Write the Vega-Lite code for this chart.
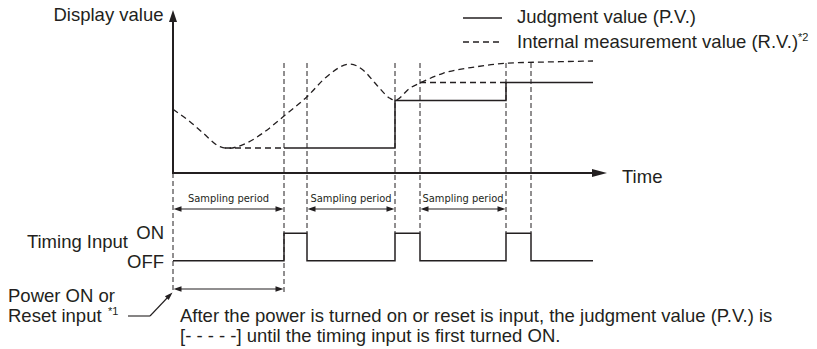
{
  "$schema": "https://vega.github.io/schema/vega-lite/v6.json",
  "width": 817,
  "height": 349,
  "autosize": {"type": "fit", "contains": "padding"},
  "padding": 0,
  "background": "white",
  "view": {"stroke": null},
  "config": {"text": {"font": "Liberation Sans", "color": "#231f20"}},
  "datasets": {
    "guides": [
      {"x": 173, "y": 173, "x2": 173, "y2": 292},
      {"x": 284, "y": 63, "x2": 284, "y2": 293},
      {"x": 307, "y": 63, "x2": 307, "y2": 233},
      {"x": 395, "y": 63, "x2": 395, "y2": 233},
      {"x": 420, "y": 63, "x2": 420, "y2": 233},
      {"x": 506, "y": 63, "x2": 506, "y2": 233},
      {"x": 531, "y": 63, "x2": 531, "y2": 233}
    ],
    "dashh": [
      {"x": 225, "y": 148, "x2": 284, "y2": 148},
      {"x": 420, "y": 82.5, "x2": 506, "y2": 82.5},
      {"x": 463, "y": 42, "x2": 502, "y2": 42}
    ],
    "curve": [
      {"x": 173, "y": 109.3}, {"x": 190, "y": 121.7}, {"x": 203, "y": 133}, {"x": 220, "y": 146.7},
      {"x": 228, "y": 148.3}, {"x": 246.7, "y": 143}, {"x": 263, "y": 133}, {"x": 284, "y": 116},
      {"x": 307, "y": 96.7}, {"x": 326.7, "y": 76.7}, {"x": 350, "y": 64}, {"x": 363, "y": 70},
      {"x": 376.7, "y": 85}, {"x": 390, "y": 98.3}, {"x": 395, "y": 100.3}, {"x": 410, "y": 88},
      {"x": 420, "y": 83}, {"x": 443, "y": 73.3}, {"x": 476.7, "y": 66.7}, {"x": 506, "y": 63.3},
      {"x": 560, "y": 61.7}, {"x": 593, "y": 61}
    ],
    "axes": [
      {"x": 173, "y": 20, "x2": 173, "y2": 173},
      {"x": 172, "y": 173, "x2": 595, "y2": 173}
    ],
    "steps": [
      {"seg": "pv", "o": 1, "x": 284, "y": 148}, {"seg": "pv", "o": 2, "x": 395, "y": 148},
      {"seg": "pv", "o": 3, "x": 395, "y": 100.5}, {"seg": "pv", "o": 4, "x": 506, "y": 100.5},
      {"seg": "pv", "o": 5, "x": 506, "y": 82.5}, {"seg": "pv", "o": 6, "x": 593, "y": 82.5},
      {"seg": "ti", "o": 1, "x": 173, "y": 260.7}, {"seg": "ti", "o": 2, "x": 284, "y": 260.7},
      {"seg": "ti", "o": 3, "x": 284, "y": 233.3}, {"seg": "ti", "o": 4, "x": 307, "y": 233.3},
      {"seg": "ti", "o": 5, "x": 307, "y": 260.7}, {"seg": "ti", "o": 6, "x": 395, "y": 260.7},
      {"seg": "ti", "o": 7, "x": 395, "y": 233.3}, {"seg": "ti", "o": 8, "x": 420, "y": 233.3},
      {"seg": "ti", "o": 9, "x": 420, "y": 260.7}, {"seg": "ti", "o": 10, "x": 506, "y": 260.7},
      {"seg": "ti", "o": 11, "x": 506, "y": 233.3}, {"seg": "ti", "o": 12, "x": 531, "y": 233.3},
      {"seg": "ti", "o": 13, "x": 531, "y": 260.7}, {"seg": "ti", "o": 14, "x": 593, "y": 260.7},
      {"seg": "lg", "o": 1, "x": 463, "y": 18}, {"seg": "lg", "o": 2, "x": 502, "y": 18}
    ],
    "thin": [
      {"x": 176, "y": 209, "x2": 281, "y2": 209},
      {"x": 310, "y": 209, "x2": 392, "y2": 209},
      {"x": 423, "y": 209, "x2": 503, "y2": 209},
      {"x": 176, "y": 289, "x2": 281, "y2": 289},
      {"x": 128, "y": 316, "x2": 150, "y2": 316},
      {"x": 150, "y": 316, "x2": 169, "y2": 296}
    ],
    "heads": [
      {"x": 173, "y": 10, "dir": "up"},
      {"x": 607, "y": 173, "dir": "axr"},
      {"x": 173.5, "y": 209, "dir": "l"}, {"x": 283.5, "y": 209, "dir": "r"},
      {"x": 307.5, "y": 209, "dir": "l"}, {"x": 394.5, "y": 209, "dir": "r"},
      {"x": 420.5, "y": 209, "dir": "l"}, {"x": 505.5, "y": 209, "dir": "r"},
      {"x": 173.5, "y": 289, "dir": "l"}, {"x": 283.5, "y": 289, "dir": "r"},
      {"x": 172.5, "y": 292.5, "dir": "ur"}
    ],
    "textL": [
      {"t": "Judgment value (P.V.)", "x": 517, "y": 23},
      {"t": "Internal measurement value (R.V.)", "x": 517, "y": 48},
      {"t": "Time", "x": 622, "y": 183},
      {"t": "Power ON or", "x": 8, "y": 301.7},
      {"t": "Reset input", "x": 8, "y": 321.7},
      {"t": "After the power is turned on or reset is input, the judgment value (P.V.) is", "x": 180, "y": 321.7},
      {"t": "[- - - - -] until the timing input is first turned ON.", "x": 180, "y": 341.7}
    ],
    "textR": [
      {"t": "Display value", "x": 163.5, "y": 20.5},
      {"t": "Timing Input", "x": 128, "y": 248.3},
      {"t": "ON", "x": 164, "y": 238.5},
      {"t": "OFF", "x": 164, "y": 267.5}
    ],
    "textS": [
      {"t": "Sampling period", "x": 228.5, "y": 201.5},
      {"t": "Sampling period", "x": 351, "y": 201.5},
      {"t": "Sampling period", "x": 463, "y": 201.5}
    ],
    "sup": [
      {"t": "*2", "x": 798, "y": 40.5},
      {"t": "*1", "x": 108, "y": 315}
    ]
  },
  "encoding": {
    "x": {"field": "x", "type": "quantitative", "scale": {"domain": [0, 817], "nice": false, "zero": false}, "axis": null},
    "y": {"field": "y", "type": "quantitative", "scale": {"domain": [349, 0], "nice": false, "zero": false}, "axis": null}
  },
  "layer": [
    {
      "data": {"name": "guides"},
      "mark": {"type": "rule", "color": "#231f20", "strokeWidth": 1, "strokeDash": [5, 3]},
      "encoding": {"x2": {"field": "x2"}, "y2": {"field": "y2"}}
    },
    {
      "data": {"name": "dashh"},
      "mark": {"type": "rule", "color": "#231f20", "strokeWidth": 1.3, "strokeDash": [6, 4]},
      "encoding": {"x2": {"field": "x2"}, "y2": {"field": "y2"}}
    },
    {
      "data": {"name": "curve"},
      "mark": {"type": "line", "color": "#231f20", "strokeWidth": 1.3, "strokeDash": [6, 4], "interpolate": "monotone"},
      "encoding": {"order": {"field": "x", "type": "quantitative"}}
    },
    {
      "data": {"name": "axes"},
      "mark": {"type": "rule", "color": "#231f20", "strokeWidth": 2},
      "encoding": {"x2": {"field": "x2"}, "y2": {"field": "y2"}}
    },
    {
      "data": {"name": "steps"},
      "mark": {"type": "line", "color": "#231f20", "strokeWidth": 1.5},
      "encoding": {"detail": {"field": "seg"}, "order": {"field": "o", "type": "quantitative"}}
    },
    {
      "data": {"name": "thin"},
      "mark": {"type": "rule", "color": "#231f20", "strokeWidth": 1.1},
      "encoding": {"x2": {"field": "x2"}, "y2": {"field": "y2"}}
    },
    {
      "data": {"name": "heads"},
      "mark": {"type": "point", "filled": true, "opacity": 1, "color": "#231f20", "size": 4, "strokeWidth": 0},
      "encoding": {
        "shape": {
          "field": "dir", "type": "nominal", "legend": null,
          "scale": {
            "domain": ["up", "axr", "l", "r", "ur"],
            "range": ["M0,0L-4,12L4,12Z", "M0,0L-15,-4L-15,4Z", "M0,0L8,-2.8L8,2.8Z", "M0,0L-8,-2.8L-8,2.8Z", "M0,0L-3.8,7.6L-7.6,3.8Z"]
          }
        }
      }
    },
    {
      "data": {"name": "textL"},
      "mark": {"type": "text", "align": "left", "baseline": "alphabetic", "fontSize": 18.5},
      "encoding": {"text": {"field": "t"}}
    },
    {
      "data": {"name": "textR"},
      "mark": {"type": "text", "align": "right", "baseline": "alphabetic", "fontSize": 18.5},
      "encoding": {"text": {"field": "t"}}
    },
    {
      "data": {"name": "textS"},
      "mark": {"type": "text", "align": "center", "baseline": "alphabetic", "fontSize": 11, "font": "DejaVu Sans Condensed, Liberation Sans"},
      "encoding": {"text": {"field": "t"}}
    },
    {
      "data": {"name": "sup"},
      "mark": {"type": "text", "align": "left", "baseline": "alphabetic", "fontSize": 11},
      "encoding": {"text": {"field": "t"}}
    }
  ]
}
